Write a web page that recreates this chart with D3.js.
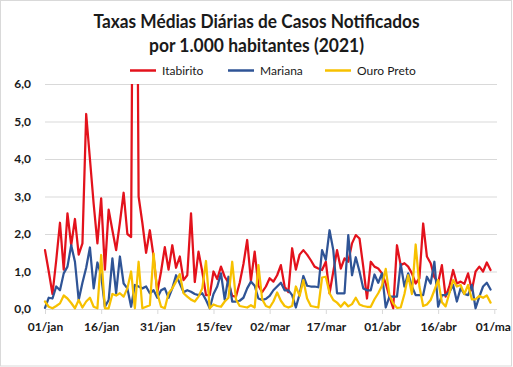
<!DOCTYPE html>
<html><head><meta charset="utf-8">
<script src="https://cdn.jsdelivr.net/npm/d3@7"></script>
<style>html,body{margin:0;padding:0;background:#fff;} svg{display:block;}</style>
</head><body>
<svg id="c" width="513" height="367"></svg>
<script>
const titleLines = ["Taxas Médias Diárias de Casos Notificados", "por 1.000 habitantes (2021)"];
const seriesNames = ["Itabirito", "Mariana", "Ouro Preto"];
const seriesColors = ["#e3121c", "#2f5496", "#f7c100"];
const startDate = "2021-01-01";
const endDate = "2021-05-01";

const itabirito = [1.57,1.0,0.4,1.3,2.3,1.05,2.55,1.7,2.4,1.45,
 1.75,5.2,4.0,2.8,1.75,2.95,1.05,2.65,2.1,1.57,
 2.3,3.1,2.0,1.92,20,3.0,2.3,1.5,2.1,1.4,
 0.45,1.0,1.65,1.05,1.7,1.1,1.4,0.77,0.9,2.55,
 0.72,1.53,1.0,0.37,0.37,1.0,0.8,1.13,0.86,0.7,
 0.35,0.33,0.7,1.2,1.84,0.75,1.53,0.62,0.45,0.6,
 0.82,0.73,0.9,1.17,0.6,0.45,1.62,1.05,1.45,1.57,
 1.45,1.3,1.13,1.08,1.04,1.26,0.42,1.0,1.57,1.08,
 1.35,1.26,1.75,1.97,1.88,1.13,0.28,1.26,1.13,1.08,
 0.95,0.68,0.33,0.02,1.7,1.17,1.22,1.13,0.95,0.68,
 0.82,2.28,1.4,1.22,0.85,0.7,1.17,0.33,0.6,1.04,
 0.68,0.73,0.67,0.95,0.5,1.0,1.13,1.0,1.24,1.04];

const mariana = [0.03,0.3,0.28,0.6,0.5,0.95,1.13,1.7,1.26,0.24,
 0.7,1.1,1.64,0.55,1.24,0.9,0.06,0.24,1.35,0.42,
 1.4,0.68,0.55,0.06,0.64,0.6,0.55,0.6,0.42,0.5,
 0.3,0.5,0.55,0.3,0.55,0.9,0.68,0.45,0.5,0.46,
 0.4,0.37,0.42,0.24,0.02,0.4,0.6,0.95,0.25,0.86,
 0.2,0.2,0.22,0.3,0.55,0.73,0.62,0.28,0.24,0.27,
 0.35,0.5,0.6,0.7,0.5,0.5,0.37,0.04,0.4,0.88,
 0.62,0.6,0.6,0.58,1.57,1.31,2.1,1.57,0.42,0.42,
 0.42,1.97,0.9,1.38,1.0,0.55,0.5,0.5,0.92,0.7,
 0.95,0.04,0.33,0.33,0.33,1.2,0.6,0.95,0.6,0.37,
 0.37,0.37,0.86,0.68,1.26,0.06,0.37,0.37,0.45,0.64,
 0.2,0.55,0.4,0.37,0.64,0.02,0.33,0.6,0.7,0.52];

const ouroPreto = [0.2,0.06,0.02,0.08,0.15,0.36,0.28,0.16,0.02,0.24,
 0.04,0.2,0.3,0.06,0.02,1.44,0.02,0.02,0.4,0.36,
 0.42,0.33,0.55,1.0,0.02,1.26,0.02,0.06,0.1,1.48,
 0.42,0.06,0.02,0.42,0.55,0.73,0.93,0.42,0.33,0.25,
 0.2,0.33,0.55,1.28,0.02,0.12,0.08,0.06,0.2,0.3,
 1.26,0.26,0.08,0.06,0.04,0.1,0.04,1.17,0.26,0.08,
 0.04,0.2,0.44,0.22,0.08,0.04,0.08,0.6,0.35,0.77,
 0.28,0.08,0.06,0.04,0.84,0.86,0.42,0.24,0.17,0.06,
 0.18,0.07,0.13,0.3,0.12,0.08,0.06,0.06,0.26,0.42,
 0.62,1.07,0.37,0.15,0.03,0.04,0.4,0.9,0.4,1.72,
 0.6,0.08,0.12,0.24,0.5,0.77,0.18,0.07,0.42,0.77,
 0.6,0.64,0.4,0.64,0.26,0.26,0.35,0.3,0.36,0.17];

const xTickDates = ["2021-01-01","2021-01-16","2021-01-31","2021-02-15","2021-03-02","2021-03-17","2021-04-01","2021-04-16","2021-05-01"];
const xTickLabels = ["01/jan","16/jan","31/jan","15/fev","02/mar","17/mar","01/abr","16/abr","01/mai"];
const yTicks = [0, 1, 2, 3, 4, 5, 6];
const yTickLabels = ["0,0","1,0","2,0","3,0","4,0","5,0","6,0"];

const parse = d3.utcParse("%Y-%m-%d");
const t0 = parse(startDate);
const seriesValues = [itabirito, mariana, ouroPreto];
const series = seriesValues.map((vals, k) => ({
  name: seriesNames[k], color: seriesColors[k],
  pts: vals.map((v, i) => ({date: d3.utcDay.offset(t0, i), v}))
}));

const svg = d3.select("#c");
const W = 513, H = 367;
const L = 45, R = 494.3, GR = 497, T = 84, B = 309;

const x = d3.scaleUtc().domain([parse(startDate), parse(endDate)]).range([L, R]);
const y = d3.scaleLinear().domain([0, 6]).range([B, T]);

svg.append("rect").attr("x", 0).attr("y", 0).attr("width", W).attr("height", H).attr("fill", "#fff");

const defs = svg.append("defs");
defs.append("clipPath").attr("id", "plotclip").append("rect")
  .attr("x", L - 5).attr("y", T).attr("width", GR - L + 10).attr("height", B - T + 6);
defs.append("clipPath").attr("id", "chartclip").append("rect")
  .attr("x", 0).attr("y", 0).attr("width", 511).attr("height", H);

// title
const fontFam = "Lato, 'Open Sans', sans-serif";
const titleG = svg.append("g").attr("font-family", fontFam).attr("font-weight", "bold")
  .attr("font-size", 18).attr("fill", "#1a1a1a").attr("text-anchor", "middle");
const titleW = [326, 215];
const titleY = [28, 51.5];
titleLines.forEach((t, i) => {
  titleG.append("text").attr("x", 256.5).attr("y", titleY[i])
    .attr("textLength", titleW[i]).attr("lengthAdjust", "spacingAndGlyphs").text(t);
});

// legend
const legX = [130, 228, 325];
const leg = svg.append("g").attr("font-family", fontFam).attr("font-size", 12).attr("fill", "#1a1a1a");
series.forEach((s, i) => {
  leg.append("line").attr("x1", legX[i]).attr("x2", legX[i] + 26)
    .attr("y1", 70.5).attr("y2", 70.5).attr("stroke", s.color).attr("stroke-width", 2.5);
  leg.append("text").attr("x", legX[i] + 32).attr("y", 74.8).text(s.name);
});

// y grid + labels
const yAxis = d3.axisLeft(y).tickValues(yTicks).tickSize(-(GR - L)).tickPadding(14)
  .tickFormat((d, i) => yTickLabels[i]);
const gy = svg.append("g").attr("transform", `translate(${L},0)`).call(yAxis);
gy.select(".domain").remove();
gy.selectAll(".tick line").attr("stroke", "#d9d9d9").attr("stroke-width", 1);
gy.selectAll(".tick text").attr("font-family", fontFam).attr("font-weight", "bold")
  .attr("font-size", 12).attr("fill", "#1a1a1a");

// x axis
const xAxis = d3.axisBottom(x).tickValues(xTickDates.map(parse)).tickSize(5).tickPadding(8)
  .tickFormat((d, i) => xTickLabels[i]);
const gx = svg.append("g").attr("transform", `translate(0,${B})`)
  .attr("clip-path", "url(#chartclip)").call(xAxis);
gx.select(".domain").remove();
gx.append("line").attr("x1", L).attr("x2", GR).attr("y1", 0.5).attr("y2", 0.5)
  .attr("stroke", "#d9d9d9");
gx.selectAll(".tick line").attr("stroke", "#d9d9d9");
gx.selectAll(".tick text").attr("font-family", fontFam).attr("font-weight", "bold")
  .attr("font-size", 12).attr("fill", "#1a1a1a");

// lines
const line = d3.line().x(d => x(d.date)).y(d => y(d.v));
const lg = svg.append("g").attr("clip-path", "url(#plotclip)");
series.forEach(s => {
  lg.append("path").datum(s.pts).attr("d", line).attr("fill", "none")
    .attr("stroke", s.color).attr("stroke-width", 2.25)
    .attr("stroke-linejoin", "round").attr("stroke-linecap", "round");
});

// frame
svg.append("rect").attr("x", 0.5).attr("y", 0.5).attr("width", 511).attr("height", 365.5)
  .attr("fill", "none").attr("stroke", "#d9d9d9");
</script>
</body></html>
